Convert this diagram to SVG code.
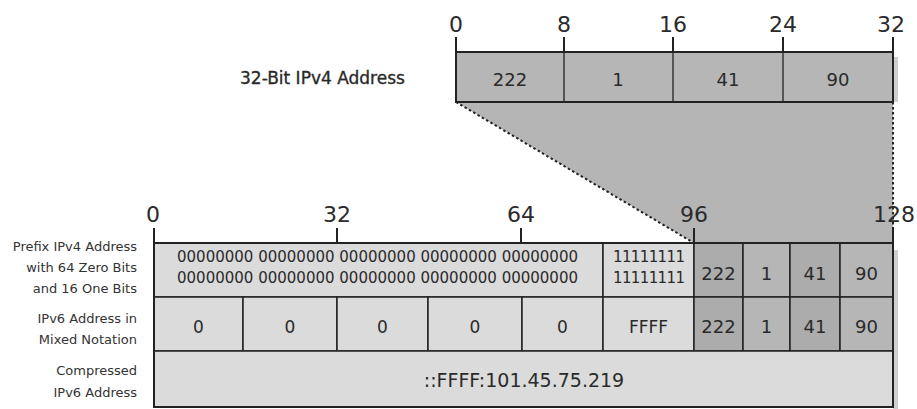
<svg xmlns="http://www.w3.org/2000/svg" width="917" height="409" viewBox="0 0 917 409">
<defs>
<style>
text{font-family:"DejaVu Sans","Liberation Sans",sans-serif;fill:#2a2a2a}
.scale{font-size:22px;text-anchor:middle}
.lbl{font-size:13px;text-anchor:end;fill:#333}
.num{font-size:18px;text-anchor:middle}
.bits{font-size:15px}
.light{fill:#dbdbdb}
.mid{fill:#b6b6b6}
.dark{fill:#acacac}
.cell{stroke:#222;stroke-width:1.5}
.tick{stroke:#222;stroke-width:2}
.dot{stroke:#222;stroke-width:2;stroke-dasharray:2.5 2.5;fill:none}
</style>
</defs>
<rect width="917" height="409" fill="#fff"/>

<g id="connectors">
<polygon points="456,102 893,102 893,243 694,243" fill="#b5b5b5"/>
<line class="dot" x1="456" y1="102" x2="694" y2="243"/>
<line class="dot" x1="893" y1="102" x2="893" y2="243"/>
</g>

<g id="ipv4-scale">
<text class="scale" x="456" y="32">0</text>
<text class="scale" x="564" y="32">8</text>
<text class="scale" x="673" y="32">16</text>
<text class="scale" x="783" y="32">24</text>
<text class="scale" x="891" y="32">32</text>
<line class="tick" x1="456" y1="37" x2="456" y2="52"/>
<line class="tick" x1="564" y1="37" x2="564" y2="52"/>
<line class="tick" x1="673" y1="37" x2="673" y2="52"/>
<line class="tick" x1="783" y1="37" x2="783" y2="52"/>
<line class="tick" x1="893" y1="37" x2="893" y2="52"/>
</g>

<g id="ipv4-address">
<text x="240" y="84" style="font-size:17px;stroke:#2a2a2a;stroke-width:0.35">32-Bit IPv4 Address</text>
<rect x="893" y="57" width="5" height="45" fill="#cfcfcf"/>
<rect x="456" y="52" width="437" height="50" class="mid"/>
<line x1="564" y1="52" x2="564" y2="102" stroke="#555" stroke-width="2"/>
<line x1="673" y1="52" x2="673" y2="102" stroke="#555" stroke-width="2"/>
<line x1="783" y1="52" x2="783" y2="102" stroke="#555" stroke-width="2"/>
<rect x="456" y="52" width="437" height="50" fill="none" stroke="#222" stroke-width="2"/>
<text class="num" x="510" y="86">222</text>
<text class="num" x="618" y="86">1</text>
<text class="num" x="728" y="86">41</text>
<text class="num" x="838" y="86">90</text>
</g>

<g id="ipv6-scale">
<text class="scale" x="153" y="222">0</text>
<text class="scale" x="337" y="222">32</text>
<text class="scale" x="521" y="222">64</text>
<text class="scale" x="694" y="222">96</text>
<text class="scale" x="894" y="222">128</text>
<line class="tick" x1="154" y1="228" x2="154" y2="243"/>
<line class="tick" x1="337" y1="228" x2="337" y2="243"/>
<line class="tick" x1="521" y1="228" x2="521" y2="243"/>
<line class="tick" x1="694" y1="228" x2="694" y2="243"/>
<line class="tick" x1="893" y1="228" x2="893" y2="243"/>
</g>

<rect x="893" y="250" width="5" height="159" fill="#cfcfcf"/>

<g id="row-prefix">
<text class="lbl" x="137" y="251">Prefix IPv4 Address</text>
<text class="lbl" x="137" y="272">with 64 Zero Bits</text>
<text class="lbl" x="137" y="293">and 16 One Bits</text>
<rect class="light cell" x="154" y="243" width="449" height="54"/>
<rect class="light cell" x="603" y="243" width="91" height="54"/>
<rect class="dark cell" x="694" y="243" width="49" height="54"/>
<rect class="mid cell" x="743" y="243" width="47" height="54"/>
<rect class="dark cell" x="790" y="243" width="50" height="54"/>
<rect class="mid cell" x="840" y="243" width="53" height="54"/>
<text class="bits" x="177" y="262" textLength="401" lengthAdjust="spacing">00000000 00000000 00000000 00000000 00000000</text>
<text class="bits" x="177" y="283" textLength="401" lengthAdjust="spacing">00000000 00000000 00000000 00000000 00000000</text>
<text class="bits" x="613" y="262" textLength="72" lengthAdjust="spacing">11111111</text>
<text class="bits" x="613" y="283" textLength="72" lengthAdjust="spacing">11111111</text>
<text class="num" x="718.5" y="280">222</text>
<text class="num" x="766.5" y="280">1</text>
<text class="num" x="815" y="280">41</text>
<text class="num" x="866.5" y="280">90</text>
</g>

<g id="row-mixed">
<text class="lbl" x="137" y="323">IPv6 Address in</text>
<text class="lbl" x="137" y="344">Mixed Notation</text>
<rect class="light cell" x="154" y="297" width="89" height="54"/>
<rect class="light cell" x="243" y="297" width="94" height="54"/>
<rect class="light cell" x="337" y="297" width="91" height="54"/>
<rect class="light cell" x="428" y="297" width="94" height="54"/>
<rect class="light cell" x="522" y="297" width="81" height="54"/>
<rect class="light cell" x="603" y="297" width="91" height="54"/>
<rect class="dark cell" x="694" y="297" width="49" height="54"/>
<rect class="mid cell" x="743" y="297" width="47" height="54"/>
<rect class="dark cell" x="790" y="297" width="50" height="54"/>
<rect class="mid cell" x="840" y="297" width="53" height="54"/>
<text class="num" x="198.5" y="333" style="font-size:17px">0</text>
<text class="num" x="290" y="333" style="font-size:17px">0</text>
<text class="num" x="382.5" y="333" style="font-size:17px">0</text>
<text class="num" x="475" y="333" style="font-size:17px">0</text>
<text class="num" x="562.5" y="333" style="font-size:17px">0</text>
<text class="num" x="648.5" y="333" style="font-size:17px">FFFF</text>
<text class="num" x="718.5" y="333">222</text>
<text class="num" x="766.5" y="333">1</text>
<text class="num" x="815" y="333">41</text>
<text class="num" x="866.5" y="333">90</text>
</g>

<g id="row-compressed">
<text class="lbl" x="137" y="375">Compressed</text>
<text class="lbl" x="137" y="397">IPv6 Address</text>
<rect class="light cell" x="154" y="351" width="739" height="56"/>
<text class="num" x="524" y="387" style="font-size:19px">::FFFF:101.45.75.219</text>
</g>

<rect x="154" y="243" width="739" height="164" fill="none" stroke="#222" stroke-width="2"/>
</svg>
